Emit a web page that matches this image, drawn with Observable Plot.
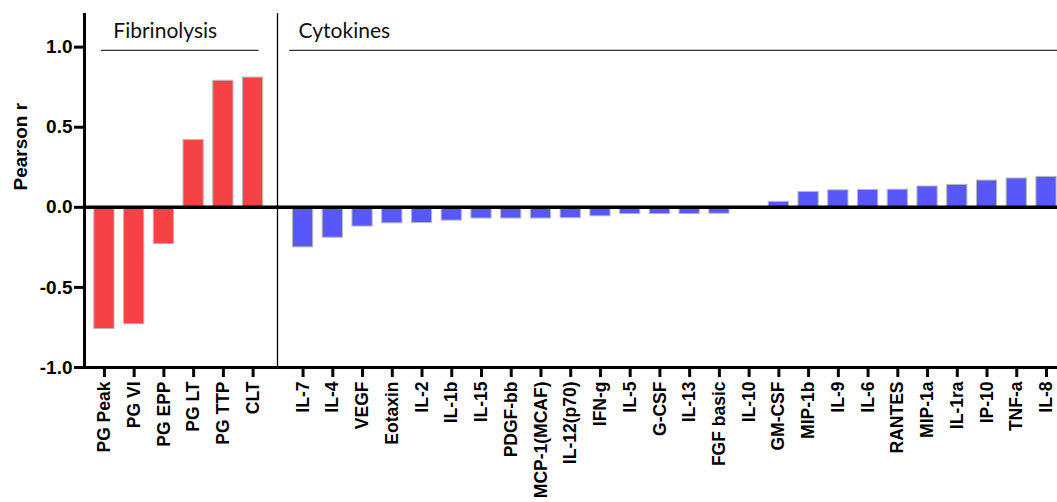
<!DOCTYPE html>
<html>
<head>
<meta charset="utf-8">
<script src="https://cdn.jsdelivr.net/npm/d3@7"></script>
<script src="https://cdn.jsdelivr.net/npm/@observablehq/plot@0.6"></script>
<style>
  html, body { margin: 0; padding: 0; background: #fff; }
  svg text { font-family: "Liberation Sans", Arial, sans-serif; }
  svg text.hdr, svg g.hdr text { font-family: Lato, "Open Sans", sans-serif; }
</style>
</head>
<body>
<div id="chart"></div>
<script>
const groups = ["Fibrinolysis", "Cytokines"];
const fibLabels = ["PG Peak", "PG VI", "PG EPP", "PG LT", "PG TTP", "CLT"];
const fibValues = [-0.76, -0.73, -0.23, 0.42, 0.79, 0.81];
const cytLabels = ["IL-7", "IL-4", "VEGF", "Eotaxin", "IL-2", "IL-1b", "IL-15", "PDGF-bb", "MCP-1(MCAF)", "IL-12(p70)", "IFN-g", "IL-5", "G-CSF", "IL-13", "FGF basic", "IL-10", "GM-CSF", "MIP-1b", "IL-9", "IL-6", "RANTES", "MIP-1a", "IL-1ra", "IP-10", "TNF-a", "IL-8"];
const cytValues = [-0.25, -0.19, -0.12, -0.10, -0.098, -0.083, -0.07, -0.07, -0.07, -0.068, -0.056, -0.042, -0.042, -0.042, -0.04, 0, 0.034, 0.096, 0.106, 0.108, 0.11, 0.13, 0.14, 0.167, 0.18, 0.19];
const yTicks = [-1, -0.5, 0, 0.5, 1];

// layout: gap between the two groups (in slot units)
const GAP = 1.68;
const data = [
  ...fibLabels.map((label, i) => ({group: groups[0], label, value: fibValues[i], pos: i})),
  ...cytLabels.map((label, j) => ({group: groups[1], label, value: cytValues[j], pos: fibLabels.length - 1 + GAP + j}))
];
const labelByPos = new Map(data.map(d => [d.pos, d.label]));
const xMin = -0.67, xMax = data[data.length - 1].pos + 0.37;
const yMin = -1, yMax = 1.21;
const half = 0.34;
const fib = data.filter(d => d.group === groups[0]);
const cyt = data.filter(d => d.group === groups[1]);
const sepX = fib[fib.length - 1].pos + 0.82;
const AX = "Liberation Sans";

const chart = Plot.plot({
  width: 1057,
  height: 502,
  marginLeft: 84,
  marginRight: 0,
  marginTop: 13,
  marginBottom: 135,
  style: {color: "#000", background: "#fff"},
  x: {type: "linear", domain: [xMin, xMax]},
  y: {domain: [yMin, yMax]},
  marks: [
    Plot.rectY(data, {
      x1: d => d.pos - half, x2: d => d.pos + half, y1: 0, y2: "value",
      fill: d => d.group === groups[0] ? "#F74245" : "#5757FA",
      stroke: "#b8b8b8", strokeWidth: 1
    }),
    // group separator
    Plot.ruleX([sepX], {y1: yMin, y2: yMax, stroke: "#000", strokeWidth: 1.3}),
    // group headers
    Plot.ruleY([0.98], {x1: fib[0].pos - 0.1, x2: fib[fib.length - 1].pos + 0.2, stroke: "#333", strokeWidth: 1.3}),
    Plot.ruleY([0.98], {x1: cyt[0].pos - 0.45, x2: xMax, stroke: "#333", strokeWidth: 1.3}),
    Plot.text([groups[0]], {x: fib[0].pos + 0.3, y: 1.1, text: d => d, textAnchor: "start", fontSize: 21, fontWeight: "normal", fill: "#111", className: "hdr"}),
    Plot.text([groups[1]], {x: cyt[0].pos - 0.15, y: 1.1, text: d => d, textAnchor: "start", fontSize: 21, fontWeight: "normal", fill: "#111", className: "hdr"}),
    // zero line
    Plot.ruleY([0], {x1: xMin, x2: xMax, stroke: "#000", strokeWidth: 3.5}),
    // axes
    Plot.ruleX([xMin], {y1: yMin, y2: yMax, stroke: "#000", strokeWidth: 3}),
    Plot.ruleY([yMin], {x1: xMin, x2: xMax, stroke: "#000", strokeWidth: 3}),
    Plot.axisY({ticks: yTicks, tickFormat: d => d.toFixed(1), tickSize: 10, tickPadding: 2, strokeWidth: 3, fontSize: 19, fontWeight: "bold", fontFamily: AX, label: null, fill: "#000"}),
    Plot.axisX({ticks: data.map(d => d.pos), tickFormat: d => labelByPos.get(d), tickSize: 10, tickPadding: 4, tickRotate: -90, strokeWidth: 3, fontSize: 17.5, fontWeight: "bold", fontFamily: AX, label: null, fill: "#000"}),
    Plot.text(["Pearson r"], {frameAnchor: "left", dx: -64, rotate: -90, text: d => d, fontSize: 19, fontWeight: "bold", fontFamily: AX, fill: "#000"})
  ]
});
document.getElementById("chart").appendChild(chart);
</script>
</body>
</html>
